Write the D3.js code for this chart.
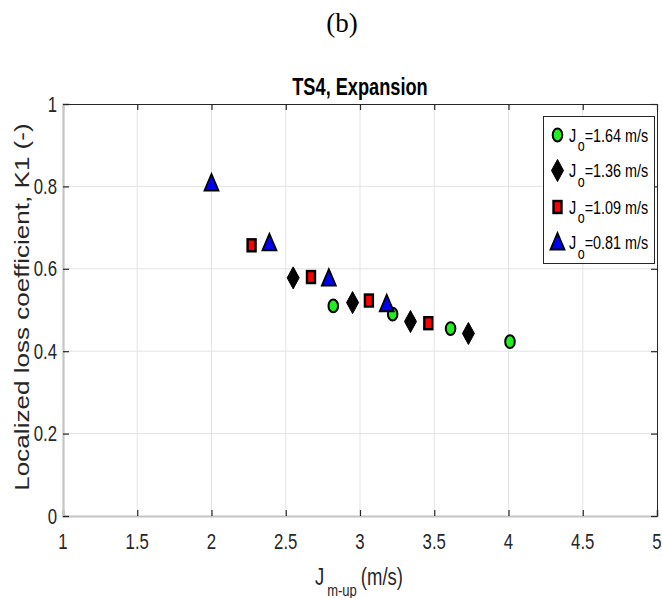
<!DOCTYPE html>
<html><head><meta charset="utf-8">
<script src="https://cdn.jsdelivr.net/npm/d3@7"></script>
<style>body{margin:0;background:#fff}svg{display:block}</style>
</head><body>
<script>
// ---- data ----
const seriesNames = ["1.64", "1.36", "1.09", "0.81"];
const seriesShapes = ["circle", "diamond", "square", "triangle"];
const seriesColors = ["#22ee22", "#000000", "#ff0000", "#0000ee"];
const x164 = [2.82, 3.22, 3.61, 4.01];
const y164 = [0.51, 0.49, 0.455, 0.423];
const x136 = [2.55, 2.95, 3.34, 3.73];
const y136 = [0.578, 0.518, 0.472, 0.443];
const x109 = [2.27, 2.67, 3.06, 3.46];
const y109 = [0.657, 0.58, 0.523, 0.468];
const x081 = [2.0, 2.39, 2.79, 3.18];
const y081 = [0.807, 0.662, 0.576, 0.514];
const xTicks = [1, 1.5, 2, 2.5, 3, 3.5, 4, 4.5, 5];
const yTicks = [0, 0.2, 0.4, 0.6, 0.8, 1];
const titleText = "TS4, Expansion";
const yLabelText = "Localized loss coefficient, K1 (-)";
const panelLabel = "(b)";

const seriesX = [x164, x136, x109, x081];
const seriesY = [y164, y136, y109, y081];

const W = 662, H = 598, SY = 1.33;
const svg = d3.select("body").append("svg").attr("width", W).attr("height", H);
const x = d3.scaleLinear().domain([1, 5]).range([63, 657]);
const y = d3.scaleLinear().domain([0, 1]).range([516, 104]);
const font = "'Liberation Sans', Arial, sans-serif";
const axisCol = "#262626";

function stext(g, tx, ty, str, size, anchor, opts = {}) {
  return g.append("text")
    .attr("transform", `translate(${tx},${ty}) scale(1,${SY})` + (opts.rot ? ` rotate(${opts.rot})` : ""))
    .attr("text-anchor", anchor)
    .attr("font-family", opts.family || font)
    .attr("font-size", size)
    .attr("font-weight", opts.weight || "normal")
    .attr("fill", opts.fill || axisCol)
    .text(str);
}

// panel label
svg.append("text").attr("x", 342).attr("y", 32).attr("text-anchor", "middle")
  .attr("font-family", "'Liberation Serif', 'Times New Roman', serif")
  .attr("font-size", 27).attr("fill", "#000").text(panelLabel);

// grid
const grid = svg.append("g");
grid.selectAll(".gx").data(xTicks.slice(1, -1)).join("line")
  .attr("x1", d => x(d)).attr("x2", d => x(d)).attr("y1", y(0)).attr("y2", y(1))
  .attr("stroke", "#e3e3e3").attr("stroke-width", 1);
grid.selectAll(".gy").data(yTicks.slice(1, -1)).join("line")
  .attr("x1", x(1)).attr("x2", x(5)).attr("y1", d => y(d)).attr("y2", d => y(d))
  .attr("stroke", "#e3e3e3").attr("stroke-width", 1);

// axes (ticks inward)
const axB = svg.append("g").attr("transform", `translate(0,${y(0)})`)
  .call(d3.axisBottom(x).tickValues(xTicks).tickSize(-6).tickFormat(""));
const axT = svg.append("g").attr("transform", `translate(0,${y(1)})`)
  .call(d3.axisTop(x).tickValues(xTicks).tickSize(-6).tickFormat(""));
const axL = svg.append("g").attr("transform", `translate(${x(1)},0)`)
  .call(d3.axisLeft(y).tickValues(yTicks).tickSize(-6).tickFormat(""));
const axR = svg.append("g").attr("transform", `translate(${x(5)},0)`)
  .call(d3.axisRight(y).tickValues(yTicks).tickSize(-6).tickFormat(""));
[axB, axT, axL, axR].forEach(a => {
  a.selectAll(".tick line").attr("stroke", axisCol).attr("stroke-width", 1.2);
  a.select(".domain").attr("stroke", axisCol).attr("stroke-width", 1);
});
[axB, axL].forEach(a => a.select(".domain").attr("stroke", "#c4c4c4").attr("stroke-width", 2.2));

// tick labels
const tl = svg.append("g");
xTicks.forEach(t => stext(tl, x(t), 549, String(t), 16.8, "middle"));
yTicks.forEach(t => stext(tl, 57, y(t) + 7.5, String(t), 16.8, "end"));

// title
stext(svg, x(3), 95, titleText, 18.2, "middle", { weight: "bold", fill: "#000" });

// y label
stext(svg, 29, y(0.5) - 3, yLabelText, 19.6, "middle", { rot: -90 });

// x label
const xl = svg.append("text")
  .attr("transform", `translate(315,585) scale(1,${SY})`)
  .attr("font-family", font).attr("fill", axisCol).attr("font-size", 18.5);
xl.append("tspan").text("J");
xl.append("tspan").attr("font-size", 13).attr("dy", 8).attr("dx", 3).text("m-up");
xl.append("tspan").attr("dy", -8).attr("dx", 4).text("(m/s)");

// markers
function drawMarker(g, shape, cx, cy, color) {
  if (shape === "circle") {
    g.append("ellipse").attr("cx", cx).attr("cy", cy).attr("rx", 4.8).attr("ry", 6.4)
      .attr("fill", color).attr("stroke", "#000").attr("stroke-width", 2);
  } else if (shape === "diamond") {
    g.append("path").attr("d", `M${cx},${cy - 11}L${cx + 6},${cy}L${cx},${cy + 11}L${cx - 6},${cy}Z`)
      .attr("fill", color).attr("stroke", "#000").attr("stroke-width", 1);
  } else if (shape === "square") {
    g.append("rect").attr("x", cx - 4).attr("y", cy - 6).attr("width", 8).attr("height", 12)
      .attr("fill", color).attr("stroke", "#000").attr("stroke-width", 2.4);
  } else {
    g.append("path").attr("d", `M${cx},${cy - 9.5}L${cx + 7},${cy + 7}L${cx - 7},${cy + 7}Z`)
      .attr("fill", color).attr("stroke", "#000").attr("stroke-width", 1.8).attr("stroke-linejoin", "miter");
  }
}
const marks = svg.append("g");
seriesNames.forEach((n, i) => {
  seriesX[i].forEach((xv, j) => drawMarker(marks, seriesShapes[i], x(xv), y(seriesY[i][j]), seriesColors[i]));
});

// legend
const lg = svg.append("g");
lg.append("rect").attr("x", 543.5).attr("y", 116.5).attr("width", 111).attr("height", 147)
  .attr("fill", "#fff").attr("stroke", axisCol).attr("stroke-width", 1);
const rowY = [135, 170.5, 207, 242.5];
seriesNames.forEach((n, i) => {
  drawMarker(lg, seriesShapes[i], 557.5, rowY[i], seriesColors[i]);
  const t = lg.append("text")
    .attr("transform", `translate(569,${rowY[i] + 6.5}) scale(1,${SY})`)
    .attr("font-family", font).attr("fill", "#000").attr("font-size", 14.4);
  t.append("tspan").text("J");
  t.append("tspan").attr("font-size", 12.5).attr("dy", 7.5).attr("dx", 1.5).text("o");
  t.append("tspan").attr("dy", -7.5).text("=" + n + " m/s");
});
</script>
</body></html>
